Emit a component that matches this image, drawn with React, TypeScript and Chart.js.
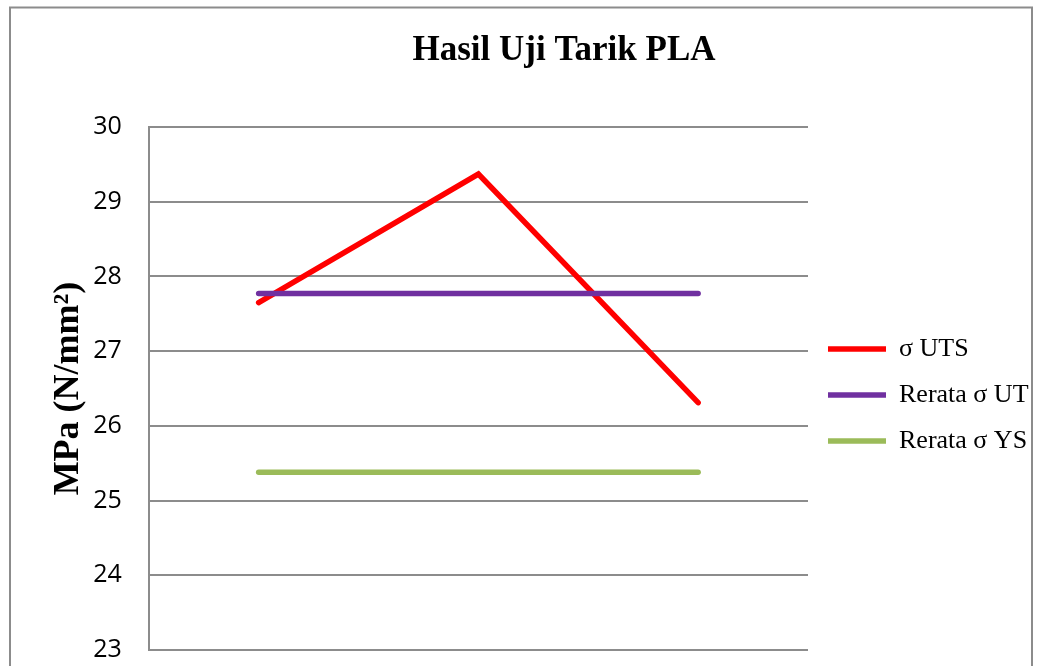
import React, { useEffect, useRef } from 'react';
import { Chart, registerables } from 'chart.js';

Chart.register(...registerables);

const chartTitle = 'Hasil Uji Tarik PLA';
const yAxisTitle = 'MPa (N/mm²)';
const categories = ['1', '2', '3'];
const seriesNames = ['σ UTS', 'Rerata σ UT', 'Rerata σ YS'];
const utsValues = [27.65, 29.37, 26.31];
const rerataUtValues = [27.77, 27.77, 27.77];
const rerataYsValues = [25.38, 25.38, 25.38];
const yMin = 23;
const yMax = 30;
const yStep = 1;

const legendFont = '26px "Liberation Serif"';
const legendPad = 20;
const legendLineW = 58;
const plotRight = 808;

const framePlugin = {
  id: 'frame',
  beforeDraw(chart: any) {
    const ctx = chart.ctx;
    ctx.save();
    ctx.fillStyle = '#ffffff';
    ctx.fillRect(0, 0, chart.width, chart.height);
    ctx.strokeStyle = '#8c8c8c';
    ctx.lineWidth = 2;
    ctx.strokeRect(10, 7.5, 1022, 760);
    ctx.restore();
  },
};

const titlePlugin = {
  id: 'customTitle',
  afterDraw(chart: any) {
    const ctx = chart.ctx;
    ctx.save();
    ctx.fillStyle = '#000000';
    ctx.font = 'bold 35px "Liberation Serif"';
    ctx.textAlign = 'center';
    ctx.textBaseline = 'alphabetic';
    ctx.fillText(chartTitle, 564, 60);
    ctx.restore();
  },
};

export default function App() {
  const ref = useRef<HTMLCanvasElement | null>(null);

  useEffect(() => {
    if (!ref.current) return;
    const mctx = document.createElement('canvas').getContext('2d') as CanvasRenderingContext2D;
    mctx.font = legendFont;
    const textW = Math.max(...seriesNames.map((s) => mctx.measureText(s).width));
    const legendW = legendPad * 2 + legendLineW + 3 + textW;
    const padRight = 1039 - plotRight - legendW;

    const chart = new Chart(ref.current, {
      type: 'line',
      data: {
        labels: categories,
        datasets: [
          {
            label: seriesNames[0],
            data: utsValues,
            borderColor: '#ff0000',
            backgroundColor: '#ff0000',
            borderWidth: 5.5,
            pointRadius: 0,
            borderCapStyle: 'round',
            borderJoinStyle: 'miter',
            fill: false,
            order: 2,
          },
          {
            label: seriesNames[1],
            data: rerataUtValues,
            borderColor: '#7030a0',
            backgroundColor: '#7030a0',
            borderWidth: 5.5,
            pointRadius: 0,
            borderCapStyle: 'round',
            fill: false,
            order: 1,
          },
          {
            label: seriesNames[2],
            data: rerataYsValues,
            borderColor: '#9bbb59',
            backgroundColor: '#9bbb59',
            borderWidth: 5.5,
            pointRadius: 0,
            borderCapStyle: 'round',
            fill: false,
            order: 0,
          },
        ],
      },
      options: {
        responsive: false,
        animation: false,
        layout: { padding: { top: 127, bottom: 70, left: 47, right: padRight } },
        scales: {
          x: { display: false, offset: true },
          y: {
            min: yMin,
            max: yMax,
            ticks: {
              stepSize: yStep,
              color: '#000000',
              font: { family: '"Open Sans"', size: 25 },
              padding: 27,
            },
            grid: { color: '#8c8c8c', lineWidth: 2, drawTicks: false },
            border: { display: true, color: '#8c8c8c', width: 2 },
            title: {
              display: true,
              text: yAxisTitle,
              color: '#000000',
              font: { family: '"Liberation Serif"', size: 36, weight: 'bold' },
              padding: { top: 0, bottom: -24 },
            },
          },
        },
        plugins: {
          title: { display: false },
          tooltip: { enabled: false },
          legend: {
            position: 'right',
            fullSize: false,
            title: { display: true, text: ' ', font: { size: 10, lineHeight: 1.3 }, padding: 0 },
            labels: {
              usePointStyle: true,
              pointStyle: 'line',
              pointStyleWidth: legendLineW,
              color: '#000000',
              font: { family: '"Liberation Serif"', size: 26 },
              padding: legendPad,
              sort: (a: any, b: any) => a.datasetIndex - b.datasetIndex,
            },
          },
        },
      },
      plugins: [framePlugin, titlePlugin],
    } as any);
    return () => chart.destroy();
  }, []);

  return (
    <div style={{ position: 'absolute', left: 0, top: 0, width: 1039, height: 720 }}>
      <canvas ref={ref} width={1039} height={720} />
    </div>
  );
}
